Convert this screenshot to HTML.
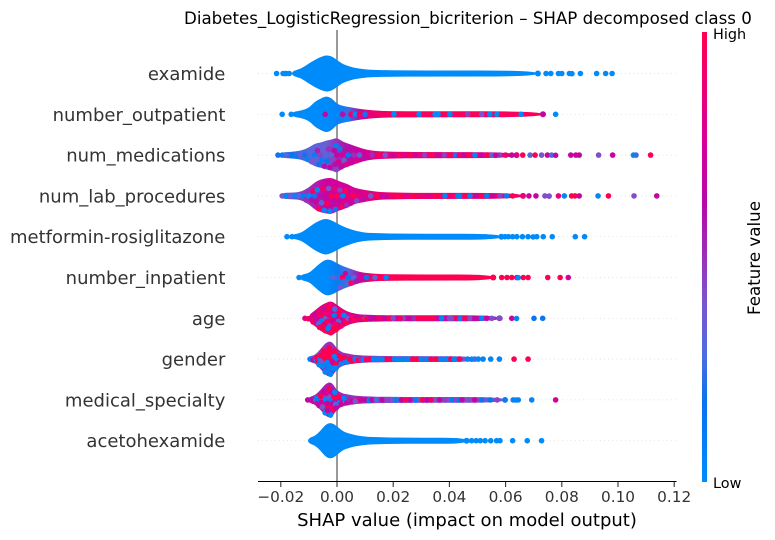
<!DOCTYPE html>
<html lang="en">
<head>
<meta charset="utf-8">
<title>SHAP summary</title>
<style>
html,body{margin:0;padding:0;background:#fff;}
svg{display:block;font-family:"DejaVu Sans","Liberation Sans",sans-serif;}
</style>
</head>
<body>
<svg id="chart" xmlns="http://www.w3.org/2000/svg" width="775" height="540" viewBox="0 0 775 540">
  <defs>
    <linearGradient id="cbar" x1="0" y1="1" x2="0" y2="0">
      <stop offset="0" stop-color="#008bfb"/>
      <stop offset="0.18" stop-color="#0a72ee"/>
      <stop offset="0.28" stop-color="#4c6ce0"/>
      <stop offset="0.40" stop-color="#7a55cf"/>
      <stop offset="0.50" stop-color="#9b2fb8"/>
      <stop offset="0.62" stop-color="#b50aa8"/>
      <stop offset="0.75" stop-color="#d4009a"/>
      <stop offset="1" stop-color="#ff0051"/>
    </linearGradient>
  </defs>
  <text x="184" y="24" font-size="16.67" fill="#000">Diabetes_LogisticRegression_bicriterion – SHAP decomposed class 0</text>
  <g id="grid"></g>
  <line x1="337" y1="30" x2="337" y2="482" stroke="#999999" stroke-width="2"/>
  <g id="marks"></g>
  <g id="labels"></g>
  <line x1="258" y1="481.5" x2="676.5" y2="481.5" stroke="#000" stroke-width="1.1"/>
  <g id="ticks"></g>
  <text x="467" y="526" font-size="18" fill="#000" text-anchor="middle">SHAP value (impact on model output)</text>
  <rect x="702" y="32" width="5" height="450" fill="url(#cbar)"/>
  <text x="713" y="39" font-size="14.4" fill="#000">High</text>
  <text x="713" y="488" font-size="14.4" fill="#000">Low</text>
  <text transform="translate(760,258) rotate(-90)" font-size="16.7" fill="#000" text-anchor="middle">Feature value</text>
</svg>
<script>
const features = ["examide","number_outpatient","num_medications","num_lab_procedures","metformin-rosiglitazone","number_inpatient","age","gender","medical_specialty","acetohexamide"];
const xTicks = [-0.02,0,0.02,0.04,0.06,0.08,0.10,0.12];
const xTickLabels = ["−0.02","0.00","0.02","0.04","0.06","0.08","0.10","0.12"];

/* swarm thickness (share of the tallest swarm) at each SHAP knot */
const densityKnots = [-0.020,-0.016,-0.013,-0.010,-0.008,-0.006,-0.004,-0.002,0,0.002,0.004,0.006,0.008,0.011,0.015,0.020,0.030];
const densityExamide = [0,.13,.24,.55,.74,.9,1,.96,.74,.52,.41,.32,.27,.21,.19,.175,.165];
const densityOutpatient = [0,.13,.19,.35,.68,.85,1,.9,.57,.46,.41,.35,.3,.24,.19,.175,.165];
const densityMedications = [.15,.18,.24,.41,.63,.68,.79,.85,.96,.74,.63,.52,.41,.27,.21,.185,.165];
const densityLabs = [.16,.18,.21,.46,.74,.9,.96,1,.85,.74,.63,.46,.38,.3,.21,.185,.165];
const densityMetformin = [0,.12,.19,.52,.74,.9,1,.9,.74,.57,.46,.35,.27,.21,.19,.175,.165];
const densityInpatient = [0,0,.15,.24,.52,.79,1,.96,.79,.63,.52,.41,.3,.24,.19,.175,.165];
const densityAge = [0,0,0,.19,.41,.68,.85,.96,.74,.52,.35,.27,.21,.19,.175,.165,.165];
const densityGender = [0,0,0,.16,.21,.52,.9,1,.57,.35,.3,.24,.21,.19,.175,.165,.16];
const densitySpecialty = [0,0,0,.16,.24,.52,.9,1,.52,.35,.3,.24,.21,.19,.175,.165,.16];
const densityAceto = [0,0,0,.16,.24,.52,.9,1,.79,.52,.41,.32,.27,.21,.19,.175,.165];

/* where the continuous tail of each swarm stops */
const tailEnds = [.0715,.0733,.0639,.0662,.0585,.0556,.0578,.049,.0598,.0461];

/* average feature value along each swarm */
const shadeKnots = [-0.02,-0.01,-0.004,0,0.004,0.008,0.012,0.02,0.03,0.05,0.07];
const shadeExamide = [0,0,0,0,0,0,0,0,0,0,0];
const shadeOutpatient = [0,0,0,.05,.25,.6,.88,.97,.97,.97,.97];
const shadeMedications = [.2,.3,.35,.5,.6,.72,.8,.87,.87,.85,.85];
const shadeLabs = [.3,.5,.72,.75,.75,.78,.85,.92,.92,.9,.9];
const shadeMetformin = [0,0,0,0,0,0,0,0,0,0,0];
const shadeInpatient = [0,0,0,.1,.3,.6,.92,1,1,1,1];
const shadeAge = [.9,.85,.85,.85,.8,.65,.7,.75,.75,.6,.4];
const shadeGender = [.4,.4,.5,.5,.5,.5,.45,.45,.45,.4,.3];
const shadeSpecialty = [.6,.55,.55,.55,.5,.5,.45,.4,.4,.4,.4];
const shadeAceto = [0,0,0,0,0,0,0,0,0,0,0];

/* individually visible points */
const shapExamide = [-.0215,-.0192,-.0185,-.018,-.017,.0744,.0761,.0788,.08,.0827,.0836,.0866,.0924,.0956,.0979];
const featExamide = [0,0,0,0,0,0,0,0,0,0,0,0,0,0,0];

const shapOutpatient = [-.0195,-.0163,-.0042,.0,.002,.0035,.005,.0065,.008,.01,.0203,.0292,.0349,.036,.0402,.0465,.0515,.0544,.0569,.0655,.0733,.0778];
const featOutpatient = [0,0,.65,0,.6,0,.9,0,.95,.2,0,0,0,0,0,.45,.4,0,0,0,.65,0];

const shapMedications = [-.021,-.0195,-.018,-.016,-.0145,-.013,-.0115,-.0105,-.0095,-.009,-.008,-.0075,-.007,-.0065,-.006,-.0055,-.005,-.0045,-.004,-.0035,-.003,-.0025,-.002,-.0015,-.001,-.0007,-.0004,-.0002,0,.0005,.001,.0015,.002,.0025,.003,.0035,.004,.005,.006,.007,.008,.0095,.011,.0125,.0172,.0197,.024,.0275,.0312,.0382,.0422,.045,.0491,.0551,.0578,.0622,.0661,.0687,.0705,.0728,.0749,.0764,.0778,.0832,.085,.0862,.0931,.0981,.1055,.1064,.1116,.0145,.022,.0262,.0295,.0335,.036,.04,.0435,.047,.0515,.0535,.0565,.06];
const featMedications = [.2,.1,.3,.15,.1,.35,.2,.05,.3,.4,.1,.35,.55,.2,.45,.1,.35,.6,.3,.15,.5,.7,.3,.45,.65,.6,.1,.45,.7,.8,.2,.65,.75,.35,.6,.85,.15,.7,.5,.8,.3,.6,.75,.5,.4,.7,.85,.65,.45,.45,.1,.7,.05,.35,.45,.65,1,.3,1,.4,.7,.3,.65,.7,.7,.7,.42,.7,.05,.25,1,1,.9,1,.85,1,.7,1,.9,1,.7,1,.7,.9];

const shapLabs = [-.0195,-.018,-.0165,-.015,-.0135,-.012,-.011,-.01,-.009,-.0085,-.008,-.0075,-.007,-.0065,-.006,-.0055,-.005,-.0045,-.004,-.0035,-.003,-.0025,-.002,-.0015,-.001,-.0005,0,.0005,.001,.0015,.002,.0025,.003,.0035,.004,.005,.006,.007,.008,.0095,.012,.0161,.02,.0248,.03,.0384,.043,.0438,.0473,.0533,.058,.0604,.0683,.0708,.074,.0755,.0788,.0809,.0835,.0847,.0862,.0929,.0966,.1057,.1138,.0145,.0175,.0225,.027,.0325,.0355,.0405,.0455,.0495,.0515,.0555,.0625];
const featLabs = [.4,.05,.4,.05,.3,.1,.5,.05,.6,.95,.2,.7,.05,.95,.6,.3,.9,.05,.7,1,.4,.05,.95,.6,.85,.2,1,.7,.45,.95,.1,.8,1,.5,.9,.7,1,.45,.8,.6,.4,.7,.95,.8,.9,.05,.05,.05,.05,.1,.45,.1,.7,.7,.42,.42,.85,.05,1,1,.7,.05,1,.42,.7,1,.7,1,1,.8,1,.9,1,.7,1,.7,1];

const shapMetformin = [-.0178,-.016,.0598,.061,.0625,.064,.066,.068,.0698,.0711,.0734,.0766,.0848,.0881];
const featMetformin = [0,0,0,0,0,0,0,0,0,0,0,0,0,0];

const shapInpatient = [-.0135,-.0115,-.0015,0,.001,.002,.0025,.003,.004,.005,.006,.007,.0085,.0105,.0135,.0175,.0586,.0605,.0622,.064,.0645,.0663,.068,.075,.0794,.0823];
const featInpatient = [0,0,.3,.25,.4,.95,.25,.7,.15,1,.3,.6,.8,.2,.35,.05,1,1,1,.95,0,1,1,1,1,.75];

const shapAge = [-.0114,-.0102,-.009,-.008,-.0075,-.007,-.0065,-.006,-.0055,-.005,-.0045,-.004,-.0035,-.003,-.0025,-.002,-.0015,-.001,-.0005,0,.0005,.001,.002,.003,.004,.005,.007,.01,.0138,.0172,.02,.0235,.026,.029,.034,.0372,.04,.0407,.0426,.0438,.0455,.0473,.0491,.0515,.0533,.0551,.058,.0622,.0639,.0701,.0732,-.0085,-.0078,-.0062,-.0058,-.0052,-.0048,-.0042,-.0038,-.0032,-.0028,-.0022,-.0018,-.0012,-.0008,-.0003,.0003,.0008,.0015,.0025,.0035,.0055,.0065,.0085,.0105,.012,.015,.0185,.0225,.0275,.031,.0325];
const featAge = [.8,1,.7,.95,.6,1,.3,.8,.05,1,.7,.35,1,.8,.45,.95,.7,.1,1,.6,.3,.9,.7,.95,.4,.8,.65,.42,.7,.65,.42,.42,.7,1,1,.05,.42,.42,1,.05,1,.42,.7,.05,.7,.42,.42,.75,.05,.15,.15,1,.7,1,.95,1,.6,1,.9,.05,1,1,.8,1,.3,1,.7,1,.95,.05,1,.9,1,.95,1,.7,.95,1,.95,.5,1,1];

const shapGender = [-.0096,-.0085,-.0075,-.0068,-.006,-.0055,-.005,-.0045,-.004,-.0035,-.003,-.0025,-.002,-.0015,-.001,-.0005,0,.001,.002,.003,.0045,.0065,.0085,.0117,.0145,.0177,.0205,.0235,.0284,.032,.0352,.039,.0405,.0417,.0436,.0465,.0479,.0503,.052,.0547,.0578,.063,.068,-.0072,-.0064,-.0058,-.0052,-.0048,-.0042,-.0038,-.0033,-.0028,-.0023,-.0018,-.0013,-.0008,-.0003,.0005,.0015,.0025,.0035,.0055,.0075,.0095,.0105,.013,.016,.019,.022,.025,.027,.03,.0335,.037];
const featGender = [.05,.6,.05,1,.05,.4,1,.05,1,.05,1,.05,1,.7,.05,1,.05,.7,1,.05,1,.05,.5,1,.05,1,.05,.05,1,.05,1,.05,1,.05,1,.05,.05,.05,.05,.05,.05,1,1,1,.05,1,.05,1,.05,1,.05,1,.05,1,.05,1,.05,1,.05,1,.05,1,1,.05,1,.05,.05,1,.05,.05,1,.05,1,.05];

const shapSpecialty = [-.0104,-.0095,-.0085,-.0075,-.0068,-.006,-.0055,-.005,-.0045,-.004,-.0035,-.003,-.0025,-.002,-.0015,-.001,-.0005,0,.001,.002,.003,.0045,.0055,.0075,.01,.014,.016,.021,.0245,.026,.0305,.0335,.0365,.041,.0425,.0445,.047,.049,.0515,.0545,.057,.0598,.0627,.0636,.0645,.0693,.0778,-.0072,-.0064,-.0058,-.0052,-.0048,-.0042,-.0038,-.0033,-.0028,-.0023,-.0018,-.0013,-.0008,-.0003,.0005,.0015,.0025,.0035,.0065,.0085,.0115,.0125,.018,.023,.028,.032,.0385,.0435];
const featSpecialty = [.7,.6,.75,.3,.65,.1,.7,.45,1,.05,.7,.4,.9,.1,.65,1,.3,.7,.05,.75,.3,.55,.7,1,.65,.3,.65,.1,1,.7,1,1,.7,.1,.45,.65,.42,.7,.15,.15,.45,.1,.05,.05,.05,.05,.75,.05,.7,1,.4,.7,.05,.75,.65,1,.05,.7,1,.05,.65,1,.7,.05,.65,.4,.7,.1,.7,.45,.7,.1,.65,.45,.1];

const shapAceto = [-.0093,-.0082,.0479,.0495,.051,.0527,.0547,.0568,.058,.0625,.0677,.0728];
const featAceto = [0,0,0,0,0,0,0,0,0,0,0,0];

const densities = [densityExamide,densityOutpatient,densityMedications,densityLabs,densityMetformin,densityInpatient,densityAge,densityGender,densitySpecialty,densityAceto];
const shades = [shadeExamide,shadeOutpatient,shadeMedications,shadeLabs,shadeMetformin,shadeInpatient,shadeAge,shadeGender,shadeSpecialty,shadeAceto];
const shapSeries = [shapExamide,shapOutpatient,shapMedications,shapLabs,shapMetformin,shapInpatient,shapAge,shapGender,shapSpecialty,shapAceto];
const featSeries = [featExamide,featOutpatient,featMedications,featLabs,featMetformin,featInpatient,featAge,featGender,featSpecialty,featAceto];

const NS = 'http://www.w3.org/2000/svg';
function make(tag, attrs, parent) {
  const el = document.createElementNS(NS, tag);
  for (const k in attrs) el.setAttribute(k, attrs[k]);
  parent.appendChild(el);
  return el;
}
function xScale(v) { return 337 + v * 2810; }
function yRow(i) { return 73.5 + i * 40.8; }
function swarmPx(d) { return d * 18.2; }
const ramp = [[0,[0,139,251]],[.18,[10,114,238]],[.28,[76,108,224]],[.40,[122,85,207]],[.50,[155,47,184]],[.62,[181,10,168]],[.75,[212,0,154]],[1,[255,0,81]]];
function colorOf(t) {
  t = Math.max(0, Math.min(1, t));
  for (let i = 1; i < ramp.length; i++) {
    if (t <= ramp[i][0]) {
      const a = ramp[i-1], b = ramp[i], f = (t - a[0]) / (b[0] - a[0]);
      const c = a[1].map((v, j) => Math.round(v + (b[1][j] - v) * f));
      return 'rgb(' + c.join(',') + ')';
    }
  }
  return 'rgb(255,0,81)';
}
function heightAt(row, v) {
  const d = densities[row];
  const last = densityKnots.length - 1;
  if (v <= densityKnots[0]) return d[0];
  if (v >= densityKnots[last]) return d[last];
  for (let i = 1; i <= last; i++) {
    if (v <= densityKnots[i]) {
      const f = (v - densityKnots[i-1]) / (densityKnots[i] - densityKnots[i-1]);
      return d[i-1] + (d[i] - d[i-1]) * f;
    }
  }
  return d[last];
}
function smoothClosed(pts) {
  const mid = (a, b) => [(a[0] + b[0]) / 2, (a[1] + b[1]) / 2];
  const start = mid(pts[pts.length-1], pts[0]);
  let d = 'M' + start[0].toFixed(2) + ' ' + start[1].toFixed(2);
  pts.forEach((p, i) => {
    const m = mid(p, pts[(i + 1) % pts.length]);
    d += 'Q' + p[0].toFixed(2) + ' ' + p[1].toFixed(2) + ' ' + m[0].toFixed(2) + ' ' + m[1].toFixed(2);
  });
  return d + 'Z';
}

const grid = document.getElementById('grid');
const marks = document.getElementById('marks');
const labels = document.getElementById('labels');
const ticks = document.getElementById('ticks');
const defs = document.querySelector('defs');

features.forEach((name, i) => {
  const y = yRow(i);

  const guide = make('line', {x1:258, x2:676.5, y1:y, y2:y, stroke:'#cccccc', 'stroke-width':0.7, 'stroke-dasharray':'0.7 3.47'}, grid);
  
  

  const label = make('text', {x:225.4, y:y + 6.5, 'font-size':18, fill:'#333333', 'text-anchor':'end'}, labels);
  label.textContent = name;
  
  

  const grad = make('linearGradient', {id:'shade' + i, gradientUnits:'userSpaceOnUse', x1:xScale(shadeKnots[0]), x2:xScale(shadeKnots[shadeKnots.length-1]), y1:0, y2:0}, defs);
  shadeKnots.forEach((k, j) => {
    make('stop', {offset:(k - shadeKnots[0]) / (shadeKnots[shadeKnots.length-1] - shadeKnots[0]), 'stop-color':colorOf(shades[i][j])}, grad);
  });

  const group = make('g', {}, marks);
  
  

  const top = [], bottom = [];
  densityKnots.forEach((k, j) => {
    const h = swarmPx(densities[i][j]);
    if (h <= 0) return;
    top.push([xScale(k), y - h]);
    bottom.unshift([xScale(k), y + h]);
  });
  const endH = swarmPx(densities[i][densities[i].length-1]);
  top.push([xScale(tailEnds[i]), y - endH]);
  bottom.unshift([xScale(tailEnds[i]), y + endH]);
  const body = make('path', {d:smoothClosed(top.concat(bottom)), fill:'url(#shade' + i + ')'}, group);
  
  

  const tailCap = make('circle', {cx:xScale(tailEnds[i]), cy:y, r:endH, fill:colorOf(shades[i][shades[i].length-1])}, group);
  
  

  const bins = {};
  shapSeries[i].forEach((v, j) => {
    const b = Math.floor(v / 0.002);
    (bins[b] = bins[b] || []).push(j);
  });
  Object.keys(bins).forEach(b => {
    const members = bins[b];
    const half = Math.ceil(members.length / 2) || 1;
    members.forEach((j, k) => {
      const v = shapSeries[i][j];
      const room = Math.max(0, swarmPx(heightAt(i, v)) - 2.8);
      const step = Math.ceil(k / 2) * (k % 2 ? 1 : -1);
      const dot = make('circle', {cx:xScale(v).toFixed(2), cy:(y + room * step / half).toFixed(2), r:2.8, fill:colorOf(featSeries[i][j])}, group);
      
      
    });
  });
});

xTicks.forEach((t, i) => {
  const mark = make('line', {x1:xScale(t), x2:xScale(t), y1:482, y2:487, stroke:'#333333', 'stroke-width':1.1}, ticks);
  
  

  const text = make('text', {x:xScale(t), y:502, 'font-size':15.3, fill:'#333333', 'text-anchor':'middle'}, ticks);
  text.textContent = xTickLabels[i];
  
  
});
</script>
</body>
</html>
